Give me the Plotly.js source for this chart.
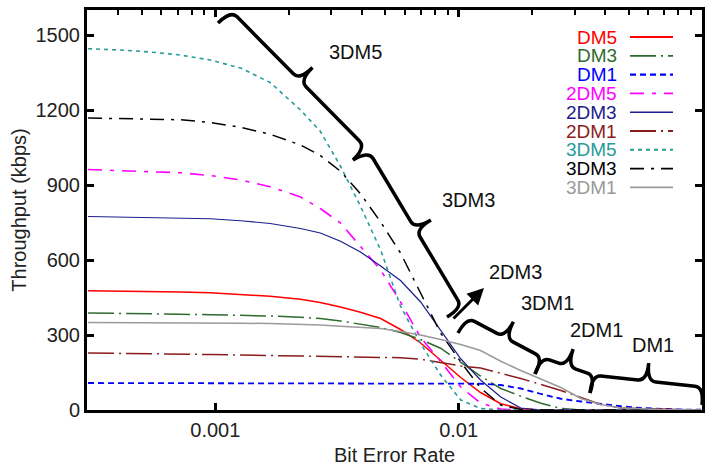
<!DOCTYPE html>
<html>
<head>
<meta charset="utf-8">
<script src="https://cdn.plot.ly/plotly-3.0.1.min.js"></script>
<style>html,body{margin:0;padding:0;background:#fff;}#chart{width:715px;height:467px;}</style>
</head>
<body>
<div id="chart"></div>
<script>
// ---- data ----
const ber = [3.0e-4, 4.06e-4, 5.4e-4, 7.17e-4, 9.53e-4, 1.27e-3, 1.68e-3, 2.24e-3, 2.70e-3, 3.27e-3,
             3.95e-3, 4.78e-3, 5.77e-3, 6.98e-3, 8.43e-3, 1.02e-2, 1.23e-2, 1.49e-2, 1.80e-2, 2.18e-2,
             2.63e-2, 3.18e-2, 3.84e-2, 4.64e-2, 5.61e-2, 6.79e-2, 8.20e-2, 9.91e-2];
const dm5   = [477,476,475,472,469,463,455,443,430,412,391,366,322,268,200,130,70,25,5,0,0,0,0,0,0,0,0,0];
const dm3   = [388,387,385,383,381,379,376,371,366,356,342,330,310,282,247,190,136,86,55,27,6,0,0,0,0,0,0,0];
const dm1   = [108,108,108,108,108,108,108,108,108,108,108,108,108,108,107,107,105,100,86,64,45,34,24,15,8,4,2,1];
const dm5_2 = [962,956,953,949,938,920,893,852,806,748,655,560,432,290,195,92,28,4,0,0,0,0,0,0,0,0,0,0];
const dm3_2 = [774,772,770,768,765,757,746,726,708,675,632,576,518,432,320,205,120,52,8,0,0,0,0,0,0,0,0,0];
const dm1_2 = [228,227,226,224,222,220,218,216,215,213,212,211,209,203,189,176,168,148,126,102,78,50,22,8,6,3,1,0];
const dm5_3 = [1445,1440,1432,1420,1400,1368,1310,1200,1115,975,815,640,415,265,140,40,6,0,0,0,0,0,0,0,0,0,0,0];
const dm3_3 = [1168,1166,1164,1161,1150,1131,1103,1060,1018,955,865,752,628,470,308,192,88,20,2,0,0,0,0,0,0,0,0,0];
const dm1_3 = [350,350,350,349,348,347,346,343,340,335,330,326,314,300,282,262,238,195,158,125,90,46,22,8,4,2,1,0];

const names  = ['DM5','DM3','DM1','2DM5','2DM3','2DM1','3DM5','3DM3','3DM1'];
const series = [dm5, dm3, dm1, dm5_2, dm3_2, dm1_2, dm5_3, dm3_3, dm1_3];
const colors = ['#ff0000','#2f6b2f','#0000ff','#ff00ff','#1c1c8c','#8b1c1c','#2a9a9a','#000000','#9a9a9a'];
const dashes = ['solid','26px,5px,2px,5px','6px,4px','14px,8px,4px,8px','solid','26px,5px,2px,5px','4px,4px','14px,7px,3px,7px','solid'];
const widths = [1.5,1.5,1.8,1.6,1.2,1.5,1.6,1.5,1.5];

const yTicks = [0,300,600,900,1200,1500];
const xTicks = [0.001,0.01,0.1];
const xTickText = ['0.001','0.01','0.1'];
const xMinorTicks = [4e-4,5e-4,6e-4,7e-4,8e-4,9e-4,2e-3,3e-3,4e-3,5e-3,6e-3,7e-3,8e-3,9e-3,2e-2,3e-2,4e-2,5e-2,6e-2,7e-2,8e-2,9e-2];

const braceLabels = ['3DM5','3DM3','2DM3','3DM1','2DM1','DM1'];

// ---- layout helpers (pixel -> paper), decorations only ----
const L0 = 87, R0 = 702, T0 = 10, B0 = 410;
const PX = px => (px - L0) / (R0 - L0);
const PY = py => (B0 - py) / (B0 - T0);
const FONT = 'Liberation Sans, Arial, sans-serif';

function brace(A, B, t, h, d, r) {
  const dx = B[0]-A[0], dy = B[1]-A[1], Ln = Math.hypot(dx, dy);
  const u = [dx/Ln, dy/Ln], n = [u[1], -u[0]];
  const P = (s, k) => { const x = A[0]+u[0]*s+n[0]*k, y = A[1]+u[1]*s+n[1]*k; return PX(x).toFixed(5)+','+PY(y).toFixed(5); };
  const m = t*Ln;
  return 'M'+P(0,0)+' Q'+P(0,h)+' '+P(r,h)+' L'+P(m-r,h)+' Q'+P(m,h)+' '+P(m,d)+
         ' Q'+P(m,h)+' '+P(m+r,h)+' L'+P(Ln-r,h)+' Q'+P(Ln,h)+' '+P(Ln,0);
}

const traces = series.map((s, i) => ({
  x: ber, y: s, type: 'scatter', mode: 'lines', name: names[i],
  line: {color: colors[i], width: widths[i], dash: dashes[i]}
}));

const shapes = [];
const annotations = [];
// legend (text right, sample line on the right)
names.forEach((nm, i) => {
  const py = 37 + i*18.8;
  annotations.push({xref:'paper', yref:'paper', x: PX(619), y: PY(py), xanchor:'right', yanchor:'middle',
    text: nm, showarrow:false, font:{family:FONT, size:19, color: colors[i]}});
  shapes.push({type:'line', xref:'paper', yref:'paper', x0: PX(630), x1: PX(673), y0: PY(py), y1: PY(py),
    line:{color: colors[i], width: widths[i]+0.3, dash: dashes[i]}});
});

// braces
const bp = [
  [[218,23],[353,160],0.51],
  [[353,160],[447,317],0.50],
  [[458,333],[535,374],0.50],
  [[535,374],[590,393],0.48],
  [[590,393],[702,405],0.49]
];
bp.forEach(b => shapes.push({type:'path', xref:'paper', yref:'paper', path: brace(b[0], b[1], b[2], 18, 36, 9),
  line:{color:'#000', width:3.5}}));

// brace labels
const labPos = [[355,52],[468,200],[515,272],[547,303],[596,330],[653,345]];
braceLabels.forEach((t, i) => annotations.push({xref:'paper', yref:'paper', x: PX(labPos[i][0]), y: PY(labPos[i][1]),
  xanchor:'center', yanchor:'middle', text:t, showarrow:false, font:{family:FONT, size:20, color:'#111'}}));

// arrow to 2DM3
annotations.push({xref:'paper', yref:'paper', x: PX(484), y: PY(288), ax: -32, ay: 32, text:'', showarrow:true,
  arrowhead:2, arrowsize:1.1, arrowwidth:3, arrowcolor:'#000'});

const axisFont = {family: FONT, size: 20, color: '#222'};

const layout = {
  width: 715, height: 467,
  margin: {l: L0, r: 715-R0, t: T0, b: 467-B0, pad: 0},
  paper_bgcolor: '#fff', plot_bgcolor: '#fff',
  showlegend: false,
  font: {family: FONT, size: 20, color: '#222'},
  xaxis: {
    type: 'log', range: [Math.log10(2.97e-4), -1], tickvals: xTicks, ticktext: xTickText,
    ticks: 'inside', ticklen: 7, tickwidth: 3, tickcolor: '#000',
    showline: true, linecolor: '#000', linewidth: 3, mirror: 'ticks',
    showgrid: false, zeroline: false, tickfont: axisFont,
    title: {text: 'Bit Error Rate', font: axisFont, standoff: 8}
  },
  xaxis2: {
    type: 'log', range: [Math.log10(2.97e-4), -1], overlaying: 'x', side: 'top', anchor: 'y',
    tickmode: 'array', tickvals: xMinorTicks, showticklabels: false,
    ticks: 'inside', ticklen: 5, tickwidth: 2, tickcolor: '#000',
    showline: false, showgrid: false, zeroline: false
  },
  yaxis: {
    range: [0, 1600], tickvals: yTicks, ticks: 'inside', ticklen: 7, tickwidth: 3, tickcolor: '#000',
    showline: true, linecolor: '#000', linewidth: 3, mirror: 'ticks',
    showgrid: false, zeroline: false, tickfont: axisFont,
    title: {text: 'Throughput (kbps)', font: axisFont, standoff: 4}
  },
  shapes: shapes,
  annotations: annotations
};

// invisible trace on the top axis so its minor ticks are drawn
traces.push({x: [1e-3, 1e-2], y: [-10, -10], xaxis: 'x2', yaxis: 'y', type: 'scatter', mode: 'lines',
  line: {width: 0}, showlegend: false, hoverinfo: 'skip'});

Plotly.newPlot('chart', traces, layout, {staticPlot: true, displayModeBar: false});
</script>
</body>
</html>
